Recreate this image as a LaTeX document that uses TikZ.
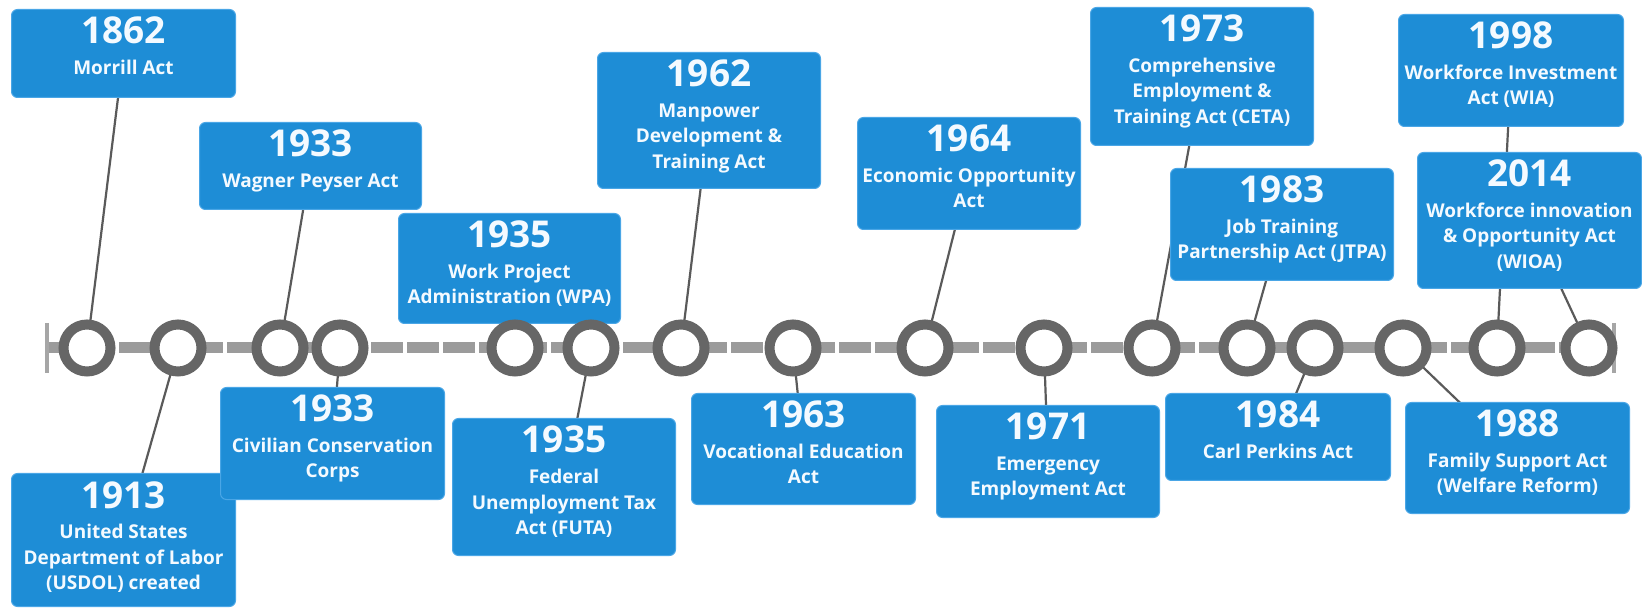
\documentclass[tikz,border=0pt]{standalone}
\usepackage{fontspec}
\setmainfont{Open Sans}
\usetikzlibrary{backgrounds}
\definecolor{boxblue}{HTML}{1E8DD6}
\definecolor{boxedge}{HTML}{4AA6E6}
\definecolor{txtwhite}{HTML}{F4FAFF}
\definecolor{ringgray}{HTML}{666666}
\definecolor{dashgray}{HTML}{9B9B9B}
\definecolor{bargray}{HTML}{A6A6A6}
\definecolor{conngray}{HTML}{5A5A5A}
\newcommand\evbox[7]{%
  \node[box, minimum width=#4pt-#2pt, minimum height=#5pt-#3pt] (b#1) at (#2,#3) {};
  \node[yr] (y#1) at ([yshift=-35pt]b#1.north) {#6};
  \node[ds] (d#1) at ([yshift=-65.5pt]b#1.north) {\begin{tabular}[t]{@{}c@{}}#7\end{tabular}};
}
\begin{document}
\begin{tikzpicture}[x=1pt,y=-1pt,
  box/.style={rectangle, rounded corners=6pt, fill=boxblue, draw=boxedge, line width=1pt, inner sep=0pt, anchor=north west},
  yr/.style={anchor=base, inner sep=0pt, text=txtwhite, font=\fontsize{37}{37}\selectfont\bfseries},
  ds/.style={anchor=base, inner sep=0pt, text=txtwhite, font=\fontsize{19}{25.5}\selectfont\bfseries},
  ring/.style={circle, draw=ringgray, line width=10pt, fill=white, minimum size=47pt, inner sep=0pt},
  conn/.style={draw=conngray, line width=2.2pt},
  tl/.style={draw=dashgray, line width=11pt, dash pattern=on 32pt off 4pt},
  endbar/.style={draw=bargray, line width=3.5pt}]
\useasboundingbox (0,0) rectangle (1642,609);
\coordinate (L) at (47,348);
\coordinate (R) at (1614,348);
\coordinate (Lt) at (47,323);
\coordinate (Lb) at (47,373);
\coordinate (Rt) at (1614,323);
\coordinate (Rb) at (1614,373);
% boxes
\evbox{1862}{11}{9}{235}{97}{1862}{Morrill Act}
\evbox{1913}{11}{473}{235}{606}{1913}{United States\\Department of Labor\\(USDOL) created}
\evbox{1933W}{199}{122}{421}{209}{1933}{Wagner Peyser Act}
\evbox{1933C}{220}{387}{444}{499}{1933}{Civilian Conservation\\Corps}
\evbox{1935W}{398}{213}{620}{323}{1935}{Work Project\\Administration (WPA)}
\evbox{1935F}{452}{418}{675}{555}{1935}{Federal\\Unemployment Tax\\Act (FUTA)}
\evbox{1962}{597}{52}{820}{188}{1962}{Manpower\\Development \&\\Training Act}
\evbox{1963}{691}{393}{915}{504}{1963}{Vocational Education\\Act}
\evbox{1964}{857}{117}{1080}{229}{1964}{Economic Opportunity\\Act}
\evbox{1971}{936}{405}{1159}{517}{1971}{Emergency\\Employment Act}
\evbox{1973}{1090}{7}{1313}{145}{1973}{Comprehensive\\Employment \&\\Training Act (CETA)}
\evbox{1983}{1170}{168}{1393}{280}{1983}{Job Training\\Partnership Act (JTPA)}
\evbox{1984}{1165}{393}{1390}{480}{1984}{Carl Perkins Act}
\evbox{1988}{1405}{402}{1629}{513}{1988}{Family Support Act\\(Welfare Reform)}
\evbox{1998}{1398}{14}{1623}{126}{1998}{Workforce Investment\\Act (WIA)}
\evbox{2014}{1417}{152}{1641}{288}{2014}{Workforce innovation\\\& Opportunity Act\\(WIOA)}
% circles
\foreach \x [count=\i] in {87,178,280,340,515,591,681,793,925,1044,1152,1247,1315,1403,1497,1589}
  \node[ring] (c\i) at (\x,348) {};
\begin{scope}[on background layer]
  \draw[tl] (L) -- (R);
  \draw[endbar] (Lt) -- (Lb);
  \draw[endbar] (Rt) -- (Rb);
  \draw[conn] (b1862.center) -- (c1.center);
  \draw[conn] (b1913.center) -- (c2.center);
  \draw[conn] (b1933W.center) -- (c3.center);
  \draw[conn] (b1933C.center) -- (c4.center);
  \draw[conn] (b1935W.center) -- (c5.center);
  \draw[conn] (b1935F.center) -- (c6.center);
  \draw[conn] (b1962.center) -- (c7.center);
  \draw[conn] (b1963.center) -- (c8.center);
  \draw[conn] (b1964.center) -- (c9.center);
  \draw[conn] (b1971.center) -- (c10.center);
  \draw[conn] (b1973.center) -- (c11.center);
  \draw[conn] (b1983.center) -- (c12.center);
  \draw[conn] (b1984.center) -- (c13.center);
  \draw[conn] (b1988.center) -- (c14.center);
  \draw[conn] (b1998.center) -- (c15.center);
  \draw[conn] (b2014.center) -- (c16.center);
\end{scope}
\end{tikzpicture}
\end{document}
